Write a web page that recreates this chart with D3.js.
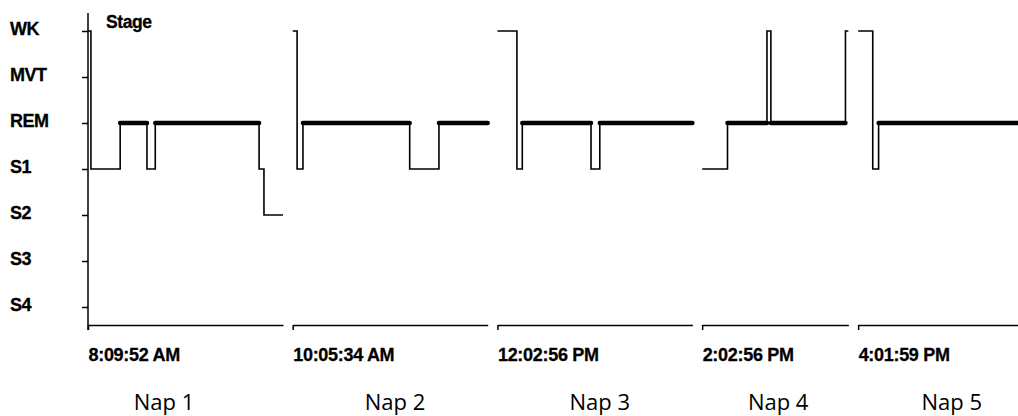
<!DOCTYPE html>
<html>
<head>
<meta charset="utf-8">
<script src="https://cdn.jsdelivr.net/npm/d3@7"></script>
<style>
  body { margin: 0; background: #fff; }
  svg { display: block; }
</style>
</head>
<body>
<div id="hypnogram"></div>
<script>
// Sleep stages, top to bottom
const stages = ["WK", "MVT", "REM", "S1", "S2", "S3", "S4"];

// Naps: name, start clock time, length in minutes
const napNames = ["Nap 1", "Nap 2", "Nap 3", "Nap 4", "Nap 5"];
const napStarts = ["8:09:52 AM", "10:05:34 AM", "12:02:56 PM", "2:02:56 PM", "4:01:59 PM"];
const napMinutes = [20, 20, 20, 15, 16.4];

// Stage changes per nap: [minute since nap start, stage]
const nap1Stages = [[0, "WK"], [0.3, "S1"], [3.3, "REM"], [6.05, "S1"], [6.9, "REM"], [17.55, "S1"], [18.05, "S2"]];
const nap2Stages = [[0, "WK"], [0.45, "S1"], [1.05, "REM"], [12.0, "S1"], [15.0, "REM"]];
const nap3Stages = [[0, "WK"], [2.0, "S1"], [2.55, "REM"], [9.6, "S1"], [10.5, "REM"]];
const nap4Stages = [[0, "S1"], [2.6, "REM"], [6.65, "WK"], [7.05, "REM"], [14.7, "WK"]];
const nap5Stages = [[0, "WK"], [1.5, "S1"], [2.1, "REM"]];
const napStages = [nap1Stages, nap2Stages, nap3Stages, nap4Stages, nap5Stages];

// Layout
const width = 1018, height = 416;
const axisX = 88, axisY = 325;
const gapMinutes = 1;
const labelMinute = [7.8, 10.5, 10.5, 7.8, 9.6];
const boldFont = "Liberation Sans, Arial, sans-serif";

// Offsets of each nap on a shared minute scale
const offsets = [];
let total = 0;
napMinutes.forEach((m, i) => {
    offsets.push(total);
    total += m + (i < napMinutes.length - 1 ? gapMinutes : 0);
});

const svg = d3.select("#hypnogram")
    .append("svg")
    .attr("width", width)
    .attr("height", height);

const x = d3.scaleLinear().domain([0, total]).range([axisX, width]);
const y = d3.scalePoint().domain(stages).range([31, 307]);

// Y axis (ticks + labels), own line for the domain
const yAxis = svg.append("g")
    .attr("transform", `translate(${axisX},0)`)
    .call(d3.axisLeft(y).tickSize(6).tickSizeOuter(0));
yAxis.select(".domain").remove();
yAxis.selectAll(".tick line").attr("stroke", "#000").attr("stroke-width", 1.5);
yAxis.selectAll(".tick text")
    .attr("text-anchor", "start")
    .attr("x", 10 - axisX)
    .attr("dy", "0.2em")
    .attr("font-family", boldFont)
    .attr("font-weight", "bold")
    .attr("font-size", 18)
    .attr("letter-spacing", -0.5)
    .attr("stroke", "#000")
    .attr("stroke-width", 0.3)
    .attr("fill", "#000");
svg.append("line")
    .attr("x1", axisX).attr("x2", axisX)
    .attr("y1", 13).attr("y2", axisY + 5)
    .attr("stroke", "#000").attr("stroke-width", 1.5);

svg.append("text")
    .attr("x", 106)
    .attr("y", 28)
    .attr("font-family", boldFont)
    .attr("font-weight", "bold")
    .attr("font-size", 17.5)
    .attr("letter-spacing", -0.4)
    .attr("stroke", "#000")
    .attr("stroke-width", 0.3)
    .text("Stage");

const line = d3.line()
    .x(d => x(d[0]))
    .y(d => y(d[1]))
    .curve(d3.curveStepAfter);

napStages.forEach((changes, i) => {
    const off = offsets[i];
    const end = off + napMinutes[i];
    const pts = changes.map(([t, s]) => [off + t, s]);
    pts.push([end, changes[changes.length - 1][1]]);

    // Thin step trace
    svg.append("path")
        .datum(pts)
        .attr("d", line)
        .attr("fill", "none")
        .attr("stroke", "#000")
        .attr("stroke-width", 1.6);

    // Thick REM segments
    const rem = [];
    for (let j = 0; j < pts.length - 1; j++) {
        if (pts[j][1] === "REM") rem.push([pts[j], [pts[j + 1][0], "REM"]]);
    }
    svg.append("g")
        .selectAll("path")
        .data(rem)
        .enter()
        .append("path")
        .attr("d", d3.line().x(d => x(d[0])).y(d => y(d[1])))
        .attr("stroke", "#000")
        .attr("stroke-width", 4.5)
        .attr("stroke-linecap", "round");

    // X axis segment for this nap, start time as its only tick
    const napScale = d3.scaleLinear()
        .domain([0, napMinutes[i]])
        .range([x(off), x(end)]);
    const ax = svg.append("g")
        .attr("transform", `translate(0,${axisY})`)
        .call(d3.axisBottom(napScale)
            .tickValues([0])
            .tickSize(5)
            .tickSizeOuter(0)
            .tickFormat(() => napStarts[i]));
    ax.select(".domain").attr("stroke", "#000").attr("stroke-width", 1.6);
    ax.selectAll(".tick line").attr("stroke", "#000").attr("stroke-width", 1.5);
    ax.selectAll(".tick text")
        .attr("text-anchor", "start")
        .attr("y", 36)
        .attr("dy", 0)
        .attr("font-family", boldFont)
        .attr("font-weight", "bold")
        .attr("font-size", 18)
        .attr("letter-spacing", -0.3)
        .attr("stroke", "#000")
        .attr("stroke-width", 0.3)
        .attr("fill", "#000");

    svg.append("text")
        .attr("x", napScale(labelMinute[i]))
        .attr("y", 410)
        .attr("text-anchor", "middle")
        .attr("font-family", "Open Sans, sans-serif")
        .attr("font-size", 22)
        .attr("fill", "#000")
        .text(napNames[i]);
});
</script>
</body>
</html>
